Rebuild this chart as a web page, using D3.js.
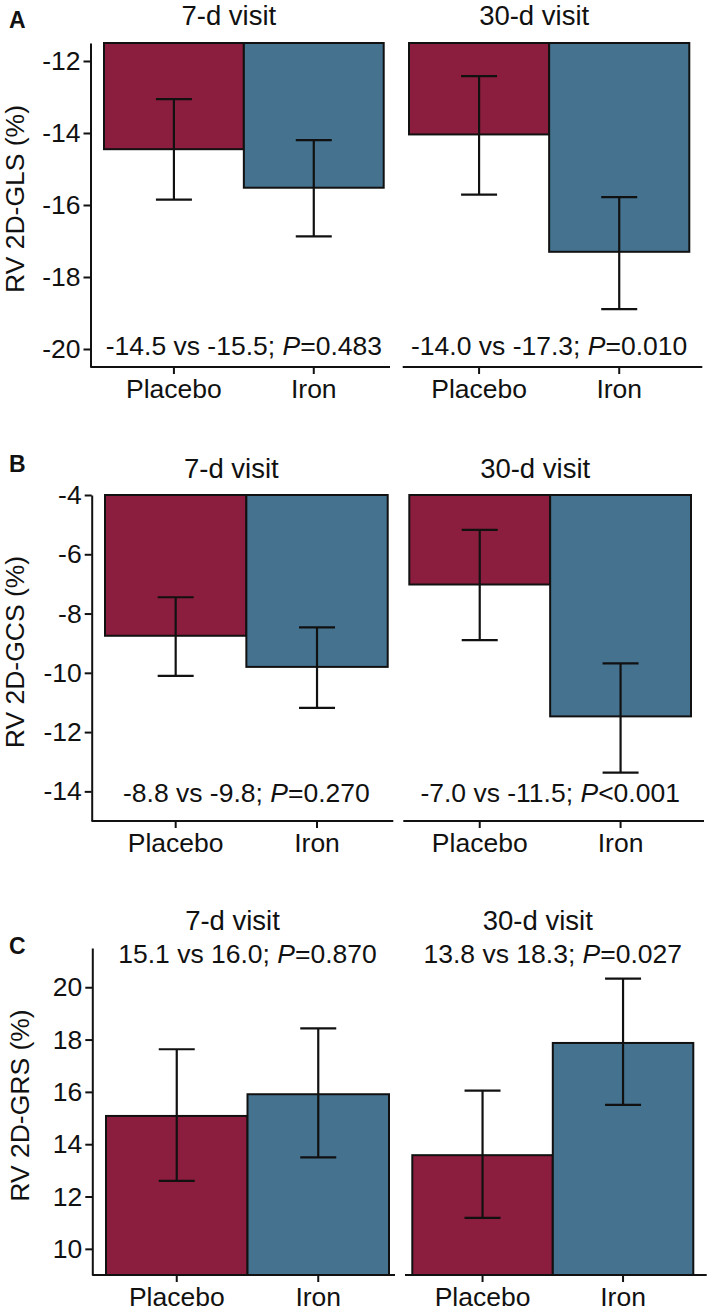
<!DOCTYPE html>
<html>
<head>
<meta charset="utf-8">
<script src="https://cdn.jsdelivr.net/npm/d3@7"></script>
<style>
  html, body { margin: 0; padding: 0; background: #fff; }
  svg { display: block; font-family: "Liberation Sans", Arial, sans-serif; }
</style>
</head>
<body>
<svg id="chart" width="709" height="1316"></svg>
<script>
// ---------- DATA ----------
const groups = ["Placebo", "Iron"];
const visits = ["7-d visit", "30-d visit"];

// Panel A: RV 2D-GLS (%)
const glsMean7   = [-14.45, -15.52];
const glsUpper7  = [-13.06, -14.20];
const glsLower7  = [-15.85, -16.87];
const glsMean30  = [-14.04, -17.30];
const glsUpper30 = [-12.42, -15.78];
const glsLower30 = [-15.71, -18.89];
const glsTicks   = [-20, -18, -16, -14, -12];
const glsNotes   = ["-14.5 vs -15.5; ", "-14.0 vs -17.3; "];
const glsP       = ["=0.483", "=0.010"];

// Panel B: RV 2D-GCS (%)
const gcsMean7   = [-8.75, -9.80];
const gcsUpper7  = [-7.45, -8.47];
const gcsLower7  = [-10.10, -11.18];
const gcsMean30  = [-7.02, -11.47];
const gcsUpper30 = [-5.18, -9.68];
const gcsLower30 = [-8.90, -13.37];
const gcsTicks   = [-14, -12, -10, -8, -6, -4];
const gcsNotes   = ["-8.8 vs -9.8; ", "-7.0 vs -11.5; "];
const gcsP       = ["=0.270", "<0.001"];

// Panel C: RV 2D-GRS (%)
const grsMean7   = [15.08, 15.91];
const grsUpper7  = [17.63, 18.43];
const grsLower7  = [12.60, 13.50];
const grsMean30  = [13.58, 17.87];
const grsUpper30 = [16.05, 20.33];
const grsLower30 = [11.18, 15.50];
const grsTicks   = [10, 12, 14, 16, 18, 20];
const grsNotes   = ["15.1 vs 16.0; ", "13.8 vs 18.3; "];
const grsP       = ["=0.870", "=0.027"];

// ---------- STYLE / LAYOUT ----------
const colors = ["#8B1D3E", "#44728F"];
const FS = 26.5;
const FT = 27.5;
const svg = d3.select("#chart");

const panels = [
  {
    letter: "A", ylabel: "RV 2D-GLS (%)", domain: [-20.5, -11.5], ticks: glsTicks,
    facets: [
      {mean: glsMean7,  up: glsUpper7,  lo: glsLower7,  note: glsNotes[0], p: glsP[0]},
      {mean: glsMean30, up: glsUpper30, lo: glsLower30, note: glsNotes[1], p: glsP[1]}
    ],
    top: 43, bottom: 367, axisX: 90.5,
    bars: [[104, 383.7], [409, 689.3]], lines: [[90.5, 390], [402.7, 702.3]],
    letterY: 28, titleY: 25, noteY: 355, ylabX: 24
  },
  {
    letter: "B", ylabel: "RV 2D-GCS (%)", domain: [-15, -4], ticks: gcsTicks,
    facets: [
      {mean: gcsMean7,  up: gcsUpper7,  lo: gcsLower7,  note: gcsNotes[0], p: gcsP[0]},
      {mean: gcsMean30, up: gcsUpper30, lo: gcsLower30, note: gcsNotes[1], p: gcsP[1]}
    ],
    top: 495, bottom: 821, axisX: 91.7,
    bars: [[105, 387.7], [409.3, 691]], lines: [[91.7, 393.3], [403.3, 704]],
    letterY: 472, titleY: 478.3, noteY: 801.7, ylabX: 24
  },
  {
    letter: "C", ylabel: "RV 2D-GRS (%)", domain: [9, 21.5], ticks: grsTicks,
    facets: [
      {mean: grsMean7,  up: grsUpper7,  lo: grsLower7,  note: grsNotes[0], p: grsP[0]},
      {mean: grsMean30, up: grsUpper30, lo: grsLower30, note: grsNotes[1], p: grsP[1]}
    ],
    top: 948, bottom: 1275, axisX: 92.3,
    bars: [[106, 389], [412.3, 693.3]], lines: [[92.3, 395], [405, 706.7]],
    letterY: 954, titleY: 930, noteY: 963.3, ylabX: 29
  }
];

panels.forEach(P => {
  const g = svg.append("g");
  const y = d3.scaleLinear().domain(P.domain).range([P.bottom, P.top]).clamp(true);
  const base = y(0);

  // panel letter
  g.append("text").attr("x", 9).attr("y", P.letterY)
    .attr("font-size", 23).attr("font-weight", "bold").attr("fill", "#111").text(P.letter);

  // y label
  g.append("text")
    .attr("transform", `translate(${P.ylabX},${(P.top + P.bottom) / 2 - 6}) rotate(-90)`)
    .attr("text-anchor", "middle").attr("font-size", FS).attr("fill", "#111")
    .text(P.ylabel);

  // y axis
  const yAxis = d3.axisLeft(y).tickValues(P.ticks).tickSize(7).tickPadding(3)
    .tickFormat(d => String(d)).tickSizeOuter(0);
  const ya = g.append("g").attr("transform", `translate(${P.axisX},0)`).call(yAxis);
  ya.select(".domain").attr("stroke", "#111").attr("stroke-width", 2);
  ya.selectAll(".tick line").attr("stroke", "#111").attr("stroke-width", 2);
  ya.selectAll(".tick text").attr("font-size", FS).attr("font-family", "Liberation Sans, Arial, sans-serif").attr("fill", "#111");

  P.facets.forEach((F, fi) => {
    const x = d3.scaleBand().domain(groups).range(P.bars[fi]).padding(0);
    const cx = (P.bars[fi][0] + P.bars[fi][1]) / 2;

    // bars
    g.append("g").selectAll("rect").data(groups).join("rect")
      .attr("x", d => x(d))
      .attr("width", x.bandwidth())
      .attr("y", (d, i) => Math.min(y(F.mean[i]), base))
      .attr("height", (d, i) => Math.abs(y(F.mean[i]) - base))
      .attr("fill", (d, i) => colors[i])
      .attr("stroke", "#111").attr("stroke-width", 2);

    // error bars
    const eb = g.append("g").attr("stroke", "#111").attr("stroke-width", 2.2).attr("fill", "none");
    groups.forEach((d, i) => {
      const mx = x(d) + x.bandwidth() / 2;
      eb.append("line").attr("x1", mx).attr("x2", mx).attr("y1", y(F.up[i])).attr("y2", y(F.lo[i]));
      eb.append("line").attr("x1", mx - 18).attr("x2", mx + 18).attr("y1", y(F.up[i])).attr("y2", y(F.up[i]));
      eb.append("line").attr("x1", mx - 18).attr("x2", mx + 18).attr("y1", y(F.lo[i])).attr("y2", y(F.lo[i]));
    });

    // x axis
    const xAxis = d3.axisBottom(x).tickSize(7).tickPadding(5).tickSizeOuter(0);
    const xa = g.append("g").attr("transform", `translate(0,${P.bottom})`).call(xAxis);
    xa.select(".domain").remove();
    xa.selectAll(".tick line").attr("stroke", "#111").attr("stroke-width", 2);
    xa.selectAll(".tick text").attr("font-size", FS).attr("font-family", "Liberation Sans, Arial, sans-serif").attr("fill", "#111");
    g.append("line").attr("x1", P.lines[fi][0]).attr("x2", P.lines[fi][1])
      .attr("y1", P.bottom).attr("y2", P.bottom).attr("stroke", "#111").attr("stroke-width", 2);

    // facet title
    g.append("text").attr("x", cx - 15).attr("y", P.titleY).attr("text-anchor", "middle")
      .attr("font-size", FT).attr("fill", "#111").text(visits[fi]);

    // annotation
    const t = g.append("text").attr("x", cx).attr("y", P.noteY).attr("text-anchor", "middle")
      .attr("font-size", FS).attr("fill", "#111");
    t.append("tspan").text(F.note);
    t.append("tspan").attr("font-style", "italic").text("P");
    t.append("tspan").text(F.p);
  });
});
</script>
</body>
</html>
